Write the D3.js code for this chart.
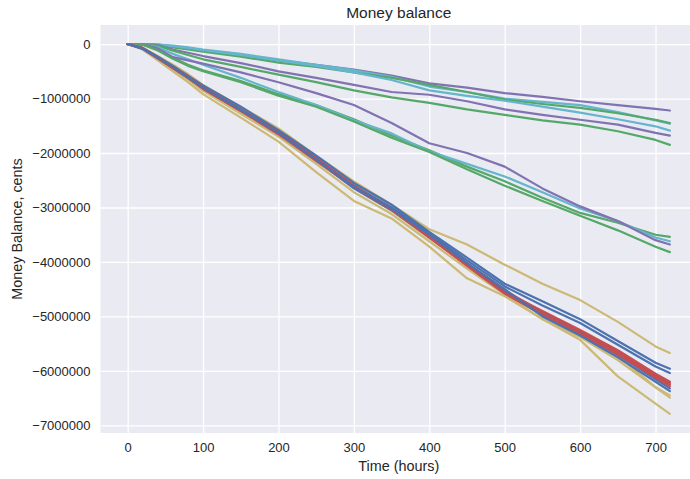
<!DOCTYPE html>
<html>
<head>
<meta charset="utf-8">
<script src="https://cdn.jsdelivr.net/npm/d3@7"></script>
<style>
  html, body { margin: 0; padding: 0; background: #ffffff; }
  svg { display: block; }
  text { font-family: "Liberation Sans", Arial, sans-serif; fill: #262626; }
</style>
</head>
<body>
<svg id="chart" width="690" height="479"></svg>
<script>
// Sampling times (hours) shared by every simulated account
const hours = [0, 20, 40, 60, 80, 100, 150, 200, 250, 300, 350, 400, 450, 500, 550, 600, 650, 700, 719];

// Money balance per run, in millions of cents, at each sampling time
const blue1   = [0,-0.07,-0.23,-0.40,-0.58,-0.76,-1.15,-1.58,-2.05,-2.55,-2.95,-3.45,-3.92,-4.40,-4.72,-5.05,-5.45,-5.85,-5.96];
const blue2   = [0,-0.08,-0.25,-0.43,-0.60,-0.80,-1.20,-1.60,-2.10,-2.60,-3.00,-3.48,-3.97,-4.45,-4.80,-5.12,-5.52,-5.92,-6.04];
const blue3   = [0,-0.09,-0.26,-0.44,-0.62,-0.82,-1.22,-1.65,-2.13,-2.65,-3.05,-3.55,-4.05,-4.55,-4.95,-5.30,-5.70,-6.15,-6.32];
const blue4   = [0,-0.08,-0.24,-0.42,-0.61,-0.80,-1.21,-1.63,-2.12,-2.62,-3.02,-3.50,-4.02,-4.50,-5.00,-5.35,-5.75,-6.20,-6.37];
const red1    = [0,-0.08,-0.26,-0.44,-0.62,-0.82,-1.23,-1.66,-2.15,-2.63,-3.05,-3.55,-4.05,-4.55,-4.90,-5.25,-5.62,-6.05,-6.20];
const red2    = [0,-0.07,-0.24,-0.42,-0.60,-0.79,-1.20,-1.62,-2.10,-2.60,-3.02,-3.52,-4.02,-4.52,-4.92,-5.28,-5.65,-6.08,-6.22];
const red3    = [0,-0.08,-0.25,-0.43,-0.61,-0.81,-1.22,-1.64,-2.12,-2.60,-3.03,-3.54,-4.06,-4.57,-4.95,-5.30,-5.68,-6.10,-6.25];
const red4    = [0,-0.08,-0.25,-0.44,-0.62,-0.82,-1.23,-1.65,-2.14,-2.62,-3.04,-3.55,-4.07,-4.58,-4.97,-5.32,-5.70,-6.12,-6.28];
const yellow1 = [0,-0.07,-0.22,-0.38,-0.55,-0.75,-1.15,-1.55,-2.05,-2.52,-2.95,-3.40,-3.68,-4.05,-4.40,-4.70,-5.10,-5.55,-5.67];
const yellow2 = [0,-0.10,-0.30,-0.50,-0.70,-0.92,-1.35,-1.79,-2.35,-2.88,-3.20,-3.72,-4.30,-4.63,-5.05,-5.43,-6.10,-6.60,-6.79];
const yellow3 = [0,-0.09,-0.27,-0.46,-0.65,-0.86,-1.28,-1.70,-2.20,-2.72,-3.12,-3.62,-4.12,-4.60,-5.05,-5.38,-5.80,-6.30,-6.45];
const yellow4 = [0,-0.08,-0.25,-0.43,-0.62,-0.82,-1.24,-1.66,-2.14,-2.64,-3.06,-3.56,-4.06,-4.56,-4.98,-5.33,-5.72,-6.30,-6.49];

const purple1 = [0,0,-0.01,-0.04,-0.08,-0.12,-0.20,-0.30,-0.38,-0.47,-0.58,-0.72,-0.80,-0.90,-0.97,-1.05,-1.12,-1.19,-1.22];
const cyan1   = [0,0,-0.01,-0.03,-0.06,-0.10,-0.18,-0.28,-0.38,-0.48,-0.60,-0.78,-0.88,-1.00,-1.06,-1.12,-1.25,-1.40,-1.46];
const green1  = [0,0,-0.02,-0.06,-0.10,-0.14,-0.23,-0.34,-0.42,-0.52,-0.62,-0.75,-0.88,-1.02,-1.10,-1.17,-1.27,-1.39,-1.45];
const cyan2   = [0,0,-0.01,-0.04,-0.07,-0.11,-0.20,-0.30,-0.40,-0.52,-0.66,-0.85,-0.95,-1.04,-1.15,-1.26,-1.38,-1.51,-1.59];
const purple2 = [0,0,-0.02,-0.10,-0.16,-0.22,-0.35,-0.50,-0.62,-0.75,-0.88,-0.93,-1.05,-1.20,-1.30,-1.39,-1.48,-1.63,-1.68];
const green2  = [0,0,-0.03,-0.12,-0.20,-0.28,-0.42,-0.56,-0.70,-0.85,-0.98,-1.08,-1.20,-1.30,-1.40,-1.48,-1.60,-1.76,-1.85];
const purple3 = [0,0,-0.08,-0.24,-0.30,-0.36,-0.52,-0.70,-0.90,-1.12,-1.45,-1.82,-2.00,-2.25,-2.65,-2.98,-3.25,-3.60,-3.68];
const cyan3   = [0,0,-0.06,-0.18,-0.28,-0.38,-0.62,-0.88,-1.12,-1.40,-1.64,-1.97,-2.20,-2.43,-2.72,-3.02,-3.25,-3.55,-3.62];
const green3  = [0,-0.01,-0.10,-0.25,-0.38,-0.48,-0.68,-0.92,-1.12,-1.38,-1.68,-1.95,-2.25,-2.52,-2.82,-3.10,-3.28,-3.50,-3.54];
const green4  = [0,-0.01,-0.12,-0.27,-0.40,-0.50,-0.70,-0.95,-1.15,-1.42,-1.72,-1.98,-2.30,-2.60,-2.88,-3.15,-3.42,-3.72,-3.82];

const CENTS_PER_UNIT = 1e6;

// Runs in drawing order, each with its palette colour
const runs = [
  { values: purple1, color: "#8172B2" }, { values: cyan1, color: "#64B5CD" },
  { values: green1,  color: "#55A868" }, { values: cyan2, color: "#64B5CD" },
  { values: purple2, color: "#8172B2" }, { values: green2, color: "#55A868" },
  { values: green3,  color: "#55A868" }, { values: cyan3, color: "#64B5CD" },
  { values: purple3, color: "#8172B2" }, { values: green4, color: "#55A868" },
  { values: yellow1, color: "#CCB974" }, { values: yellow2, color: "#CCB974" },
  { values: yellow3, color: "#CCB974" }, { values: blue1,  color: "#4C72B0" },
  { values: red1,    color: "#C44E52" }, { values: blue2,  color: "#4C72B0" },
  { values: yellow4, color: "#CCB974" }, { values: red2,   color: "#C44E52" },
  { values: blue3,   color: "#4C72B0" }, { values: red3,   color: "#C44E52" },
  { values: red4,    color: "#C44E52" }, { values: blue4,  color: "#4C72B0" }
];

const xTicks = [0, 100, 200, 300, 400, 500, 600, 700];
const yTicks = [0, -1000000, -2000000, -3000000, -4000000, -5000000, -6000000, -7000000];

const svg = d3.select("#chart");
const plot = { left: 100.5, right: 697, top: 25, bottom: 433 };

const x = d3.scaleLinear().domain([-36, 755]).range([plot.left, plot.right]);
const y = d3.scaleLinear().domain([-7.14e6, 0.35e6]).range([plot.bottom, plot.top]);

svg.append("defs").append("clipPath").attr("id", "plot-clip")
  .append("rect")
  .attr("x", plot.left).attr("y", plot.top)
  .attr("width", plot.right - plot.left).attr("height", plot.bottom - plot.top);

// Panel background
svg.append("rect")
  .attr("x", plot.left).attr("y", plot.top)
  .attr("width", plot.right - plot.left).attr("height", plot.bottom - plot.top)
  .attr("fill", "#EAEAF2");

// White grid drawn through the axis generators
const gx = svg.append("g")
  .attr("transform", `translate(0,${plot.bottom})`)
  .call(d3.axisBottom(x).tickValues(xTicks).tickSize(-(plot.bottom - plot.top)).tickPadding(10).tickFormat(d3.format("d")));
const gy = svg.append("g")
  .attr("transform", `translate(${plot.left},0)`)
  .call(d3.axisLeft(y).tickValues(yTicks).tickSize(-(plot.right - plot.left)).tickPadding(10).tickFormat(d3.format("d")));

[gx, gy].forEach(g => {
  g.select(".domain").remove();
  g.selectAll(".tick line").attr("stroke", "#ffffff").attr("stroke-width", 1.3);
  g.selectAll(".tick text")
    .attr("fill", "#262626")
    .style("font-family", '"Liberation Sans", Arial, sans-serif')
    .style("font-size", "13px");
});

// Balance lines
const line = d3.line()
  .x((d, i) => x(hours[i]))
  .y(d => y(d * CENTS_PER_UNIT));

svg.append("g").attr("clip-path", "url(#plot-clip)")
  .selectAll("path")
  .data(runs)
  .join("path")
  .attr("d", r => line(r.values))
  .attr("fill", "none")
  .attr("stroke", r => r.color)
  .attr("stroke-width", 2.2)
  .attr("stroke-linejoin", "round")
  .attr("stroke-linecap", "round");

// Titles
const midX = (plot.left + plot.right) / 2;
svg.append("text")
  .attr("x", midX).attr("y", 18)
  .attr("text-anchor", "middle")
  .style("font-size", "15.5px")
  .text("Money balance");

svg.append("text")
  .attr("x", midX).attr("y", 471)
  .attr("text-anchor", "middle")
  .style("font-size", "14.4px")
  .text("Time (hours)");

svg.append("text")
  .attr("transform", `translate(22,${(plot.top + plot.bottom) / 2}) rotate(-90)`)
  .attr("text-anchor", "middle")
  .style("font-size", "14.4px")
  .text("Money Balance, cents");
</script>
</body>
</html>
